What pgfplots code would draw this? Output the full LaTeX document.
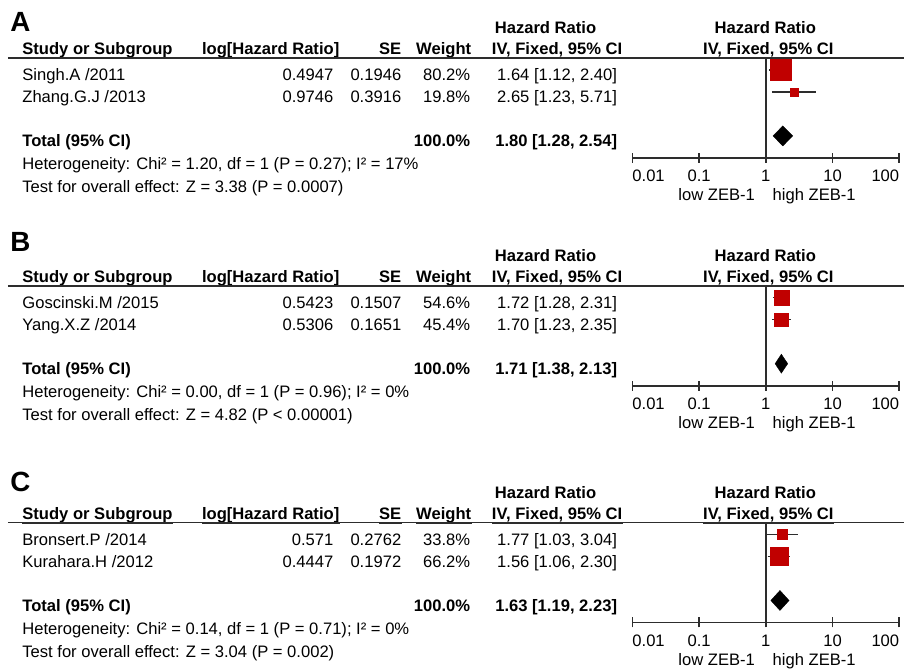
\documentclass[border=0pt]{standalone}
\usepackage{pgfplots}
\pgfplotsset{compat=1.18}
\usepackage{fontspec}
\setmainfont{Liberation Sans}

\definecolor{boxred}{RGB}{192,0,0}
\definecolor{linegray}{RGB}{45,45,45}

\newcommand\tf{\fontsize{8.3}{10}\selectfont}
\newcommand\lf{\fontsize{13.9}{16}\selectfont\bfseries}

% forest-plot panels: log HR axis, rows measured downward from the header rule
\pgfplotsset{
  every axis/.append style={
    xmode=log, xmin=0.01, xmax=100, ymin=-100, ymax=0,
    scale only axis, width=133.5pt, height=50pt,
    anchor=south west, clip=false,
    axis x line*=bottom, axis y line=none,
    xtick={0.01,0.1,1,10,100},
    xticklabels={{\makebox[0pt][l]{0.01}},0.1,1,10,{\makebox[0pt][r]{100}}},
    xminorticks=false,
    major tick length=5pt, tick align=center,
    tick style={line width=0.8pt, color=linegray},
    axis line style={line width=0.9pt, color=linegray},
    xticklabel style={font=\tf, anchor=base, yshift=-9.5pt, inner sep=0pt},
  },
  refline/.style={linegray, line width=0.75pt, mark=none},
  whisker/.style={linegray, line width=0.75pt, mark=none},
  studybox/.style={only marks, mark=square*, boxred,
    mark options={fill=boxred, draw=boxred, line width=0.1pt}},
  pooled/.style={fill=black, draw=black, line width=0.2pt, mark=none},
}

% table header for one panel; #1 = y of the header rule
\newcommand\panelhead[1]{%
  \draw[line width=0.8pt, linegray] (8,#1) -- (905,#1);
  \node[anchor=base] at (495+51,#1-24.5) {\tf\bfseries Hazard Ratio};
  \node[anchor=base] at (766,#1-24.5) {\tf\bfseries Hazard Ratio};
  \node[anchor=base west] (h1) at (22,#1-3) {\tf\bfseries Study or Subgroup};
  \node[anchor=base east] (h2) at (340,#1-3) {\tf\bfseries log[Hazard Ratio]};
  \node[anchor=base east] (h3) at (402,#1-3) {\tf\bfseries SE};
  \node[anchor=base east] (h4) at (472,#1-3) {\tf\bfseries Weight};
  \node[anchor=base west] (h5) at (492,#1-3) {\tf\bfseries IV, Fixed, 95\% CI};
  \node[anchor=base] (h6) at (769,#1-3) {\tf\bfseries IV, Fixed, 95\% CI};
  \foreach \h in {h1,h2,h3,h4,h5,h6}{
    \draw[line width=1pt, linegray] ([yshift=-1.5pt]\h.base west) -- ([yshift=-1.5pt]\h.base east);}
}

% one study row: y, name, log HR, SE, weight, HR [CI]
\newcommand\studyrow[6]{%
  \node[anchor=base west] at (22,#1) {\tf #2};
  \node[anchor=base east] at (334,#1) {\tf #3};
  \node[anchor=base east] at (402,#1) {\tf #4};
  \node[anchor=base east] at (471,#1) {\tf #5};
  \node[anchor=base east] at (618,#1) {\tf #6};}

% pooled row and footnotes: y of header rule, HR [CI], heterogeneity, overall test
\newcommand\panelfoot[4]{%
  \node[anchor=base west] at (22,#1+89) {\tf\bfseries Total (95\% CI)};
  \node[anchor=base east] at (471,#1+89) {\tf\bfseries 100.0\%};
  \node[anchor=base east] at (618,#1+89) {\tf\bfseries #2};
  \node[anchor=base west] at (22,#1+112) {\tf #3};
  \node[anchor=base west] at (22,#1+135) {\tf #4};
  \node[anchor=base east] at (756,#1+143) {\tf low ZEB-1};
  \node[anchor=base west] at (773,#1+143) {\tf high ZEB-1};}

\begin{document}
\begin{tikzpicture}
\begin{scope}[x=0.5pt, y=-0.5pt, every node/.style={inner sep=0pt}]
  \path (0,0) rectangle (905,671);

  % ---------- A ----------
  \node[anchor=base west] at (10,32) {\lf A};
  \panelhead{58}
  \studyrow{81}{Singh.A /2011}{0.4947}{0.1946}{80.2\%}{1.64 [1.12, 2.40]}
  \studyrow{103}{Zhang.G.J /2013}{0.9746}{0.3916}{19.8\%}{2.65 [1.23, 5.71]}
  \panelfoot{58}{1.80 [1.28, 2.54]}
    {Heterogeneity: Chi² = 1.20, df = 1 (P = 0.27); I² = 17\%}
    {Test for overall effect: Z = 3.38 (P = 0.0007)}

  % ---------- B ----------
  \node[anchor=base west] at (10,252) {\lf B};
  \panelhead{286}
  \studyrow{309}{Goscinski.M /2015}{0.5423}{0.1507}{54.6\%}{1.72 [1.28, 2.31]}
  \studyrow{331}{Yang.X.Z /2014}{0.5306}{0.1651}{45.4\%}{1.70 [1.23, 2.35]}
  \panelfoot{286}{1.71 [1.38, 2.13]}
    {Heterogeneity: Chi² = 0.00, df = 1 (P = 0.96); I² = 0\%}
    {Test for overall effect: Z = 4.82 (P < 0.00001)}

  % ---------- C ----------
  \node[anchor=base west] at (10,492) {\lf C};
  \panelhead{523}
  \studyrow{546}{Bronsert.P /2014}{0.571}{0.2762}{33.8\%}{1.77 [1.03, 3.04]}
  \studyrow{568}{Kurahara.H /2012}{0.4447}{0.1972}{66.2\%}{1.56 [1.06, 2.30]}
  \panelfoot{523}{1.63 [1.19, 2.23]}
    {Heterogeneity: Chi² = 0.14, df = 1 (P = 0.71); I² = 0\%}
    {Test for overall effect: Z = 3.04 (P = 0.002)}
\end{scope}

% forest plot A
\begin{axis}[at={(316.5pt,-79pt)}]
  \addplot[refline] coordinates {(1,0) (1,-100)};
  \addplot[whisker] coordinates {(1.12,-12) (2.40,-12)};
  \addplot[whisker] coordinates {(1.23,-34) (5.71,-34)};
  \addplot[studybox, mark size=5.25pt] coordinates {(1.64,-12)};
  \addplot[studybox, mark size=2pt] coordinates {(2.65,-34)};
  \addplot[pooled] coordinates {(1.28,-78) (1.80,-68) (2.54,-78) (1.80,-88) (1.28,-78)};
\end{axis}

% forest plot B
\begin{axis}[at={(316.5pt,-193pt)}]
  \addplot[refline] coordinates {(1,0) (1,-100)};
  \addplot[whisker] coordinates {(1.28,-12) (2.31,-12)};
  \addplot[whisker] coordinates {(1.23,-34) (2.35,-34)};
  \addplot[studybox, mark size=3.75pt] coordinates {(1.72,-12)};
  \addplot[studybox, mark size=3.4pt] coordinates {(1.70,-34)};
  \addplot[pooled] coordinates {(1.38,-78) (1.71,-68.5) (2.13,-78) (1.71,-87.5) (1.38,-78)};
\end{axis}

% forest plot C
\begin{axis}[at={(316.5pt,-311.5pt)}]
  \addplot[refline] coordinates {(1,0) (1,-100)};
  \addplot[whisker] coordinates {(1.03,-12) (3.04,-12)};
  \addplot[whisker] coordinates {(1.06,-34) (2.30,-34)};
  \addplot[studybox, mark size=2.5pt] coordinates {(1.77,-12)};
  \addplot[studybox, mark size=4.5pt] coordinates {(1.56,-34)};
  \addplot[pooled] coordinates {(1.19,-78) (1.63,-68) (2.23,-78) (1.63,-88) (1.19,-78)};
\end{axis}
\end{tikzpicture}
\end{document}
